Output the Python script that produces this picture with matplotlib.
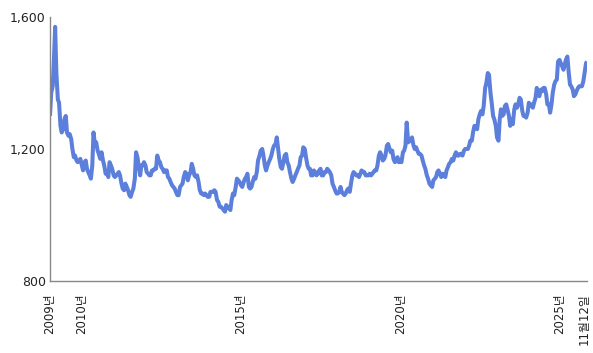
import matplotlib
matplotlib.use("Agg")
import matplotlib.pyplot as plt
import matplotlib.transforms as mtransforms
import pandas as pd

# Semi-monthly USD/KRW readings (1st and 16th of each month)
y2009 = [1300, 1370, 1390, 1470, 1570, 1430, 1350, 1340, 1270, 1250, 1260, 1290,
         1300, 1250, 1240, 1245, 1230, 1200, 1175, 1180, 1165, 1160, 1165, 1170]
y2010 = [1150, 1135, 1160, 1165, 1140, 1130, 1120, 1110, 1150, 1250, 1210, 1220,
         1195, 1185, 1170, 1190, 1165, 1150, 1125, 1130, 1115, 1160, 1150, 1140]
y2011 = [1120, 1115, 1120, 1125, 1130, 1120, 1095, 1080, 1075, 1095, 1085, 1075,
         1060, 1055, 1070, 1080, 1110, 1190, 1175, 1150, 1120, 1150, 1150, 1160]
y2012 = [1150, 1130, 1125, 1120, 1120, 1135, 1135, 1140, 1140, 1180, 1165, 1160,
         1145, 1140, 1130, 1135, 1135, 1115, 1110, 1100, 1090, 1085, 1080, 1070]
y2013 = [1060, 1060, 1085, 1090, 1095, 1115, 1130, 1125, 1105, 1120, 1130, 1155,
         1140, 1120, 1115, 1120, 1100, 1075, 1065, 1065, 1060, 1065, 1060, 1055]
y2014 = [1055, 1070, 1070, 1070, 1075, 1070, 1045, 1040, 1025, 1025, 1020, 1015,
         1010, 1030, 1025, 1020, 1015, 1045, 1065, 1060, 1085, 1110, 1105, 1100]
y2015 = [1090, 1085, 1100, 1110, 1115, 1125, 1085, 1080, 1085, 1100, 1115, 1110,
         1130, 1165, 1180, 1195, 1200, 1180, 1150, 1135, 1150, 1160, 1170, 1180]
y2016 = [1200, 1210, 1215, 1235, 1200, 1170, 1145, 1140, 1160, 1180, 1185, 1160,
         1150, 1130, 1110, 1100, 1110, 1120, 1130, 1140, 1150, 1175, 1180, 1205]
y2017 = [1200, 1175, 1150, 1140, 1140, 1120, 1120, 1135, 1130, 1120, 1125, 1135,
         1140, 1120, 1120, 1130, 1130, 1140, 1135, 1130, 1120, 1095, 1085, 1075]
y2018 = [1065, 1065, 1070, 1085, 1070, 1065, 1060, 1065, 1075, 1080, 1070, 1095,
         1120, 1130, 1125, 1120, 1120, 1115, 1125, 1135, 1130, 1130, 1120, 1120]
y2019 = [1120, 1125, 1120, 1125, 1130, 1135, 1135, 1150, 1180, 1190, 1180, 1165,
         1170, 1180, 1210, 1215, 1200, 1190, 1195, 1170, 1160, 1170, 1175, 1160]
y2020 = [1165, 1160, 1190, 1195, 1210, 1280, 1220, 1225, 1225, 1235, 1210, 1200,
         1205, 1195, 1185, 1185, 1180, 1165, 1150, 1140, 1120, 1110, 1095, 1090]
y2021 = [1085, 1105, 1110, 1115, 1130, 1135, 1125, 1115, 1125, 1120, 1115, 1135,
         1145, 1155, 1160, 1170, 1165, 1180, 1190, 1180, 1180, 1185, 1185, 1180]
y2022 = [1195, 1200, 1200, 1200, 1210, 1225, 1225, 1250, 1270, 1265, 1260, 1290,
         1305, 1315, 1305, 1330, 1385, 1400, 1430, 1425, 1370, 1340, 1300, 1290]
y2023 = [1270, 1235, 1225, 1290, 1320, 1300, 1305, 1330, 1335, 1320, 1300, 1270,
         1290, 1275, 1320, 1335, 1325, 1335, 1355, 1350, 1315, 1300, 1300, 1295]
y2024 = [1310, 1340, 1330, 1335, 1325, 1340, 1355, 1385, 1365, 1360, 1380, 1375,
         1385, 1385, 1365, 1335, 1335, 1310, 1335, 1370, 1395, 1405, 1410, 1465]
y2025 = [1470, 1460, 1450, 1440, 1455, 1470, 1480, 1435, 1395, 1390, 1380, 1360,
         1365, 1375, 1385, 1390, 1390, 1390, 1405, 1430, 1460, 1465]

values = (y2009 + y2010 + y2011 + y2012 + y2013 + y2014 + y2015 + y2016 + y2017
          + y2018 + y2019 + y2020 + y2021 + y2022 + y2023 + y2024 + y2025)

start_date = "2009-01-01"
end_date = "2025-11-12"
dates = list(pd.date_range(start_date, "2025-11-01", freq="SMS"))
dates.append(pd.Timestamp(end_date))
dates = dates[:len(values)]

tick_dates = ["2009-01-01", "2010-01-01", "2015-01-01", "2020-01-01", "2025-01-01", end_date]
tick_labels = ["2009년", "2010년", "2015년", "2020년", "2025년", "11월12일"]
y_ticks = [800, 1200, 1600]
y_labels = ["800", "1,200", "1,600"]

fig = plt.figure(figsize=(5.93, 3.53), dpi=100)
ax = fig.add_axes([50 / 593, 0.204, 537 / 593, 0.748])
ax.plot(dates, values, color="#5B7FDB", lw=2.9, solid_joinstyle="round",
        solid_capstyle="butt")

ax.set_ylim(800, 1600)
ax.set_xlim(pd.Timestamp(start_date), pd.Timestamp(end_date))
ax.set_yticks(y_ticks)
ax.set_yticklabels(y_labels, fontsize=9, color="#222222")
ax.set_xticks([pd.Timestamp(d) for d in tick_dates])
ax.set_xticklabels(tick_labels, rotation=90, fontsize=8.5, color="#222222",
                   family=["DejaVu Sans", "Noto Sans CJK KR"])
ax.tick_params(axis="both", length=0)
ax.tick_params(axis="x", pad=9)
ax.tick_params(axis="y", pad=3)
for s in ["top", "right"]:
    ax.spines[s].set_visible(False)
for s in ["left", "bottom"]:
    ax.spines[s].set_color("#888888")
    ax.spines[s].set_linewidth(1)

# nudge the last label slightly left so it stays inside the canvas
last = ax.get_xticklabels()[-1]
last.set_transform(last.get_transform() +
                   mtransforms.ScaledTranslation(-3 / 100, 0, fig.dpi_scale_trans))

fig.savefig("out.png", dpi=100)
